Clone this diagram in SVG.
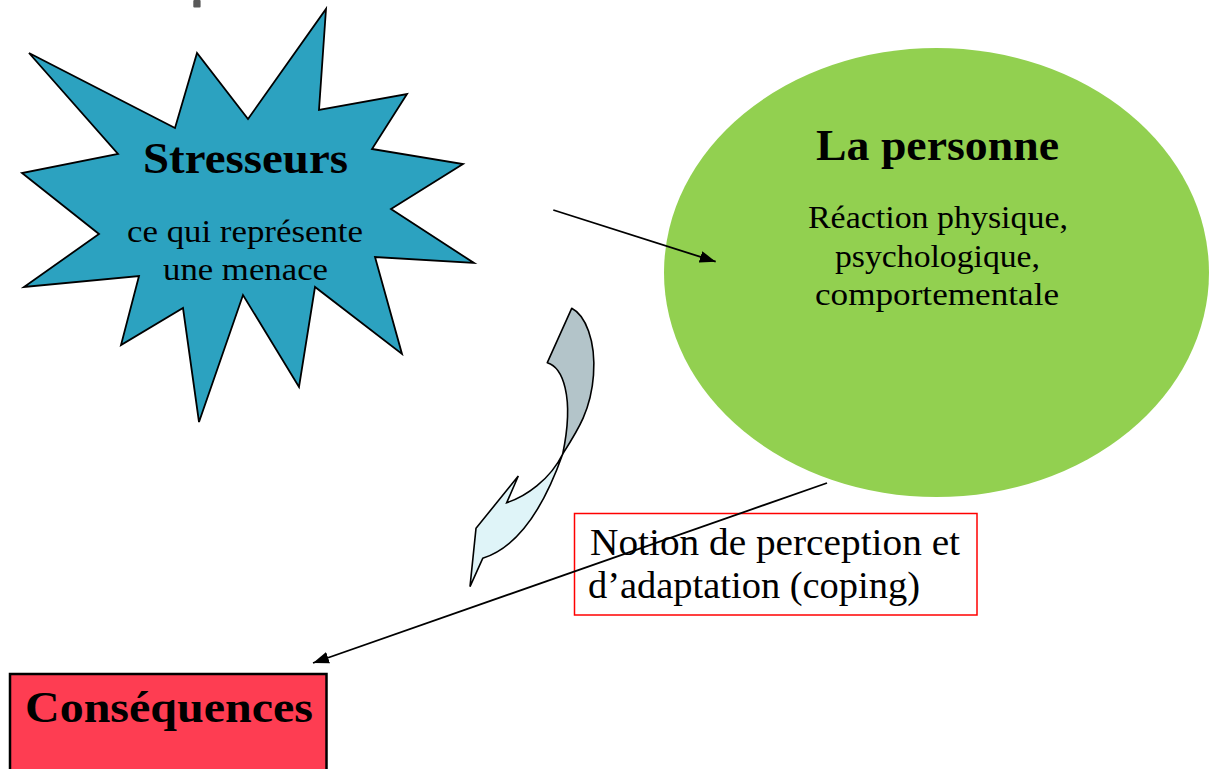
<svg xmlns="http://www.w3.org/2000/svg" width="1210" height="769" viewBox="0 0 1210 769">
<style>
.title{font-family:"Liberation Serif","Times New Roman",serif;font-weight:bold;font-size:45px;fill:#000;text-anchor:middle}
.body{font-family:"Liberation Serif","Times New Roman",serif;font-size:31px;fill:#000;text-anchor:middle}
.note{font-family:"Liberation Serif","Times New Roman",serif;font-size:38px;fill:#000}
.conn{stroke:#000;stroke-width:1.8;fill:none}
</style>
<defs>
<marker id="ah" viewBox="0 0 16 12" refX="16" refY="6" markerWidth="16" markerHeight="12" orient="auto" markerUnits="userSpaceOnUse">
<path d="M0,0 L16,6 L0,12 Z" fill="#000"/>
</marker>
</defs>
<rect x="193.3" y="0" width="7.3" height="7.5" rx="1" fill="#595959"/>
<g id="stresseurs">
<polygon points="29,53 175,128 197,53 248,119 326,9 319,110 407,94 372,149 463,164 391,209 474,263 375,257 402,354 315,287 299,387 243,295 199,422 183,308 121,345 139,276 24,287 99,234 22,173 118,154" fill="#2ca2c0" stroke="#000" stroke-width="1.8" stroke-linejoin="miter"/>
<text class="title" x="245.5" y="172.5" textLength="205" lengthAdjust="spacingAndGlyphs">Stresseurs</text>
<text class="body" x="245" y="241.5" textLength="236" lengthAdjust="spacingAndGlyphs">ce qui représente</text>
<text class="body" x="245.5" y="280" textLength="165" lengthAdjust="spacingAndGlyphs">une menace</text>
</g>
<g id="personne">
<ellipse cx="936.5" cy="272.5" rx="272.5" ry="224.5" fill="#92d050"/>
<text class="title" x="937.5" y="160" textLength="243" lengthAdjust="spacingAndGlyphs">La personne</text>
<text class="body" x="938" y="228" textLength="260" lengthAdjust="spacingAndGlyphs">Réaction physique,</text>
<text class="body" x="937.5" y="267" textLength="205" lengthAdjust="spacingAndGlyphs">psychologique,</text>
<text class="body" x="937" y="305" textLength="244" lengthAdjust="spacingAndGlyphs">comportementale</text>
</g>
<g id="curved-arrow">
<path d="M571.7,308.3 L547.3,362.7 C562,367 575,395 562.7,454 C578,430 591,410 593.5,375 C596,340 585,315 571.7,308.3 Z" fill="#b3c4c9" stroke="#000" stroke-width="1.6" stroke-linejoin="round"/>
<path d="M562.7,454 C550,490 525,545 482.7,558.3 L470,586.7 L476,528.3 L518.3,476 L506.7,502.7 C525,497 550,480 562.7,454 Z" fill="#dff4f8" stroke="#000" stroke-width="1.6" stroke-linejoin="miter"/>
</g>
<g id="notion">
<rect x="574.5" y="513.5" width="402.5" height="101.5" fill="none" stroke="#ff0000" stroke-width="1.5"/>
<text class="note" x="590" y="555" textLength="370" lengthAdjust="spacingAndGlyphs">Notion de perception et</text>
<text class="note" x="588" y="598" textLength="332" lengthAdjust="spacingAndGlyphs">d’adaptation (coping)</text>
</g>
<g id="consequences">
<rect x="10" y="674" width="316.5" height="110" fill="#fe3d52" stroke="#000" stroke-width="2.5"/>
<text class="title" x="169" y="722" textLength="288" lengthAdjust="spacingAndGlyphs">Conséquences</text>
</g>
<g id="connectors">
<line class="conn" x1="553.3" y1="210" x2="715.7" y2="261.7" marker-end="url(#ah)"/>
<line class="conn" x1="827" y1="483" x2="313" y2="663" marker-end="url(#ah)"/>
</g>
</svg>
